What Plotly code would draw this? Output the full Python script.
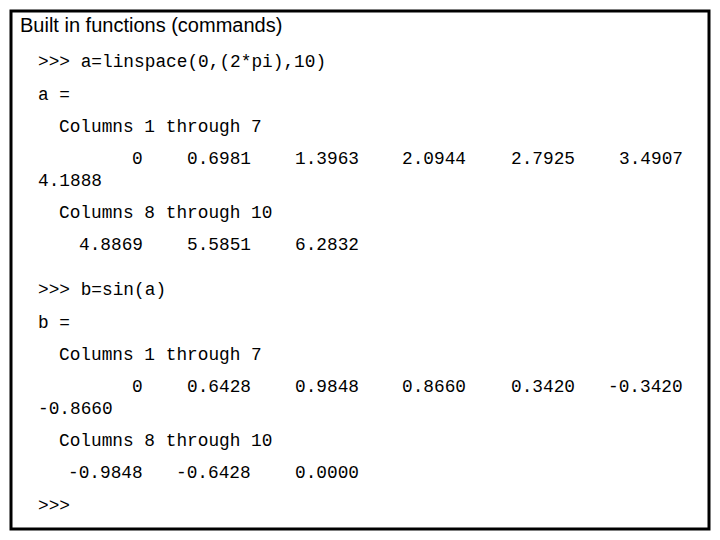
import plotly.graph_objects as go

title = "Built in functions (commands)"
cmd_a = ">>> a=linspace(0,(2*pi),10)"
cmd_b = ">>> b=sin(a)"
a_vals = ["0", "0.6981", "1.3963", "2.0944", "2.7925", "3.4907", "4.1888", "4.8869", "5.5851", "6.2832"]
b_vals = ["0", "0.6428", "0.9848", "0.8660", "0.3420", "-0.3420", "-0.8660", "-0.9848", "-0.6428", "0.0000"]

mono = dict(family="Liberation Mono, Courier New, monospace", size=17.8, color="black")
col_x = [145, 253, 361, 468, 577, 685]
ann = []

def txt(x, y, s, anchor="left", font=mono):
    ann.append(dict(x=x, y=y, text=s, showarrow=False, xref="x", yref="y",
                    xanchor=anchor, yanchor="middle", font=font))

txt(18, 25, title, font=dict(family="Liberation Sans, Arial", size=20, color="black"))

def block(name, cmd, vals, y0):
    txt(36, y0, cmd)
    txt(36, y0 + 33, name + " =")
    txt(57, y0 + 65, "Columns 1 through 7")
    for i in range(6):
        txt(col_x[i], y0 + 97, vals[i], "right")
    txt(36, y0 + 119, vals[6])
    txt(57, y0 + 151, "Columns 8 through 10")
    for i in range(3):
        txt(col_x[i], y0 + 183, vals[7 + i], "right")

block("a", cmd_a, a_vals, 62)
block("b", cmd_b, b_vals, 290)
txt(36, 506, ">>>")

fig = go.Figure()
fig.update_layout(
    width=704, height=524, margin=dict(l=0, r=0, t=0, b=0),
    paper_bgcolor="white", plot_bgcolor="white",
    xaxis=dict(range=[8, 712], visible=False, fixedrange=True),
    yaxis=dict(range=[532, 8], visible=False, fixedrange=True),
    annotations=ann,
    shapes=[dict(type="rect", x0=11, y0=11, x1=709, y1=529, xref="x", yref="y",
                 line=dict(color="black", width=3))],
    showlegend=False,
)
fig.write_html("out.html")
